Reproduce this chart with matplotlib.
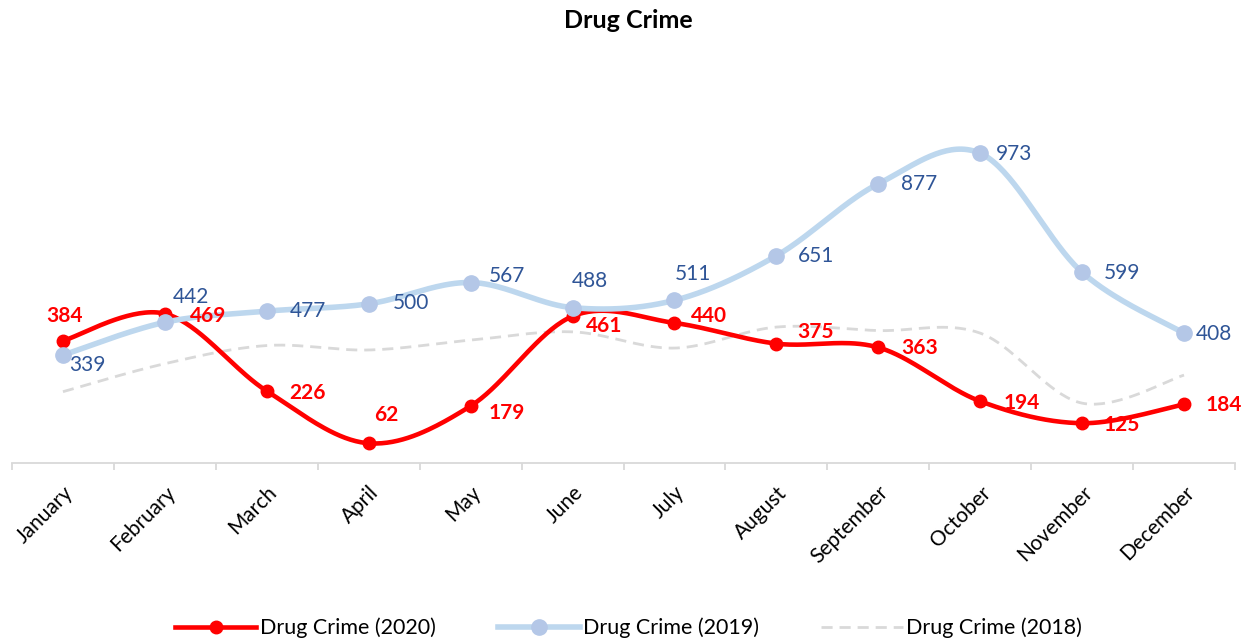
import numpy as np
import matplotlib
matplotlib.use('Agg')
import matplotlib.pyplot as plt

plt.rcParams['font.family'] = ['Lato', 'DejaVu Sans']

months = ['January', 'February', 'March', 'April', 'May', 'June', 'July',
          'August', 'September', 'October', 'November', 'December']
crime_2020 = [384, 469, 226, 62, 179, 461, 440, 375, 363, 194, 125, 184]
crime_2019 = [339, 442, 477, 500, 567, 488, 511, 651, 877, 973, 599, 408]
crime_2018 = [224, 312, 369, 355, 386, 412, 361, 427, 416, 408, 188, 276]

# label offsets in pixels (dx, dy), dy positive = up
off_2020 = [(2, 25), (43, -2), (41, -2), (18, 28), (36, -7), (32, -10),
            (35, 7), (39, 12), (41, -1), (41, -2), (40, -2), (40, -1)]
off_2019 = [(24, -10), (26, 25), (41, 0), (42, 1), (36, 7), (17, 27),
            (19, 26), (40, 0), (41, 0), (34, -1), (40, -1), (30, -1)]


def smooth(x, y, n=40):
    # Excel style smoothed line (Catmull-Rom as cubic Bezier)
    pts = np.column_stack([x, y]).astype(float)
    pad = np.vstack([pts[0], pts, pts[-1]])
    t = np.linspace(0, 1, n)[:, None]
    out = []
    for i in range(len(pts) - 1):
        p0, p1, p2, p3 = pad[i], pad[i + 1], pad[i + 2], pad[i + 3]
        c1 = p1 + (p2 - p0) / 6
        c2 = p2 - (p3 - p1) / 6
        seg = (1 - t)**3 * p1 + 3 * (1 - t)**2 * t * c1 + 3 * (1 - t) * t**2 * c2 + t**3 * p2
        out.append(seg if i == 0 else seg[1:])
    return np.vstack(out)


x = np.arange(len(months))

fig = plt.figure(figsize=(12.57, 6.43), dpi=100)
ax = fig.add_axes([12 / 1257, 1 - 463 / 643, (1235 - 12) / 1257, (463 - 81) / 643])

red = '#FF0000'
blue_line = '#BDD7EE'
blue_mark = '#B4C7E7'
blue_text = '#2F5597'
gray = '#D9D9D9'

s18 = smooth(x, crime_2018)
ax.plot(s18[:, 0], s18[:, 1], color=gray, lw=2, ls=(0, (4, 2.5)), zorder=2)

s20 = smooth(x, crime_2020)
ax.plot(s20[:, 0], s20[:, 1], color=red, lw=3.3, zorder=3, solid_capstyle='round')
ax.plot(x, crime_2020, 'o', color=red, ms=9, zorder=4)

s19 = smooth(x, crime_2019)
ax.plot(s19[:, 0], s19[:, 1], color=blue_line, lw=4, zorder=5, solid_capstyle='round')
ax.plot(x, crime_2019, 'o', color=blue_mark, ms=11, zorder=6)

for xi, v, (dx, dy) in zip(x, crime_2020, off_2020):
    ax.annotate(str(v), (xi, v), xytext=(dx, dy), textcoords='offset pixels',
                ha='center', va='center', color=red, fontsize=15,
                fontweight='bold', zorder=10)
for xi, v, (dx, dy) in zip(x, crime_2019, off_2019):
    ax.annotate(str(v), (xi, v), xytext=(dx, dy), textcoords='offset pixels',
                ha='center', va='center', color=blue_text, fontsize=15, zorder=10)

ax.set_xlim(-0.5, 11.5)
ax.set_ylim(0, 1200)
ax.set_yticks([])
for side in ['left', 'right', 'top']:
    ax.spines[side].set_visible(False)
ax.spines['bottom'].set_color(gray)
ax.spines['bottom'].set_linewidth(1.3)

ax.set_xticks(x)
ax.set_xticklabels(months, rotation=45, ha='right', rotation_mode='anchor',
                   fontsize=15)
ax.tick_params(axis='x', which='major', length=0, pad=14)
ax.set_xticks(np.arange(-0.5, 12, 1), minor=True)
ax.tick_params(axis='x', which='minor', length=5, color=gray, width=1.3)

fig.text(0.5, 1 - 20 / 643, 'Drug Crime', ha='center', va='center',
         fontsize=18, fontweight='bold')

h20, = ax.plot([], [], color=red, lw=3.3, marker='o', ms=9)
h19, = ax.plot([], [], color=blue_line, lw=4, marker='o', ms=11, mfc=blue_mark, mec=blue_mark)
h18, = ax.plot([], [], color=gray, lw=2, ls=(0, (4, 2.5)))
fig.legend([h20, h19, h18], ['Drug Crime (2020)', 'Drug Crime (2019)', 'Drug Crime (2018)'],
           loc='center', bbox_to_anchor=(0.5, 1 - 628 / 643), ncol=3, frameon=False,
           fontsize=15.5, handlelength=3.8, handletextpad=0.15, columnspacing=2.9)

fig.savefig('out.png', dpi=100)
